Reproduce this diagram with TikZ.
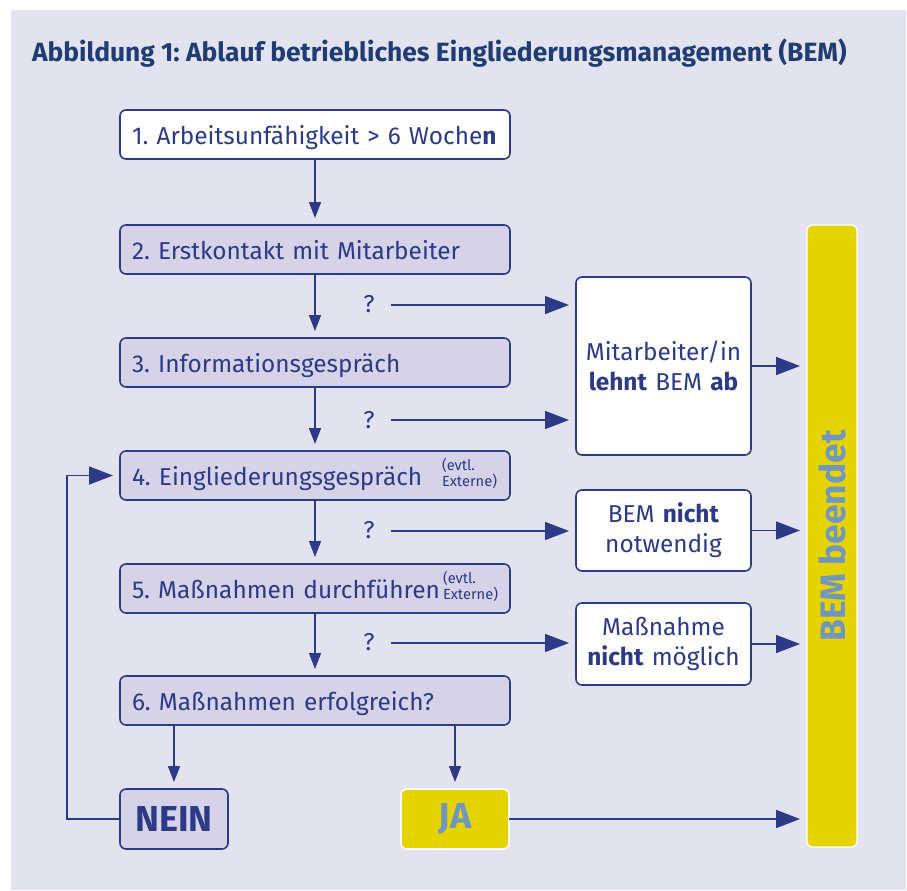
\documentclass[tikz,border=0pt]{standalone}
\usepackage{fontspec}
\setmainfont{Fira Sans}
\usetikzlibrary{arrows.meta}
\definecolor{bg}{HTML}{E3E3F0}
\definecolor{navy}{HTML}{2C3A87}
\definecolor{titleblue}{HTML}{1F3C73}
\definecolor{stepfill}{HTML}{D6D3E8}
\definecolor{yel}{HTML}{E4D300}
\definecolor{steel}{HTML}{7196BF}
\frenchspacing
\begin{document}
\begin{tikzpicture}[x=0.75pt,y=-0.75pt,
  every node/.style={outer sep=0pt, text=navy, font=\fontsize{18.3}{22.5}\selectfont},
  box/.style={draw=navy, line width=1.2pt, rounded corners=4.5pt, anchor=north west,
    minimum height=49*0.75pt, inner xsep=12*0.75pt, inner ysep=0pt,
    text height=19pt, text depth=3.5pt,
    text width=366*0.75pt, align=left},
  stepbox/.style={box, fill=stepfill},
  sidebox/.style={draw=navy, fill=white, line width=1.2pt, rounded corners=4.5pt,
    anchor=north west, inner sep=0pt, text width=175*0.75pt, align=center},
  extbox/.style={anchor=west, inner sep=0pt, align=left, font=\fontsize{11}{11.5}\selectfont},
  endbox/.style={line width=1.2pt, rounded corners=4.5pt, anchor=north west, inner sep=0pt,
    minimum width=108*0.75pt, minimum height=60*0.75pt, font=\fontsize{27}{30}\selectfont\bfseries},
  flow/.style={draw=navy, line width=1.2pt, shorten >=5.25pt, -{Triangle[length=12pt,width=9pt]}},
  flowbig/.style={draw=navy, line width=1.2pt, shorten >=5.25pt, -{Triangle[length=18pt,width=13.5pt]}},
  qmark/.style={inner sep=0pt, font=\fontsize{18.3}{22}\selectfont}
  ]
\useasboundingbox (0,0) rectangle (907,890);
\fill[bg] (11,10) rectangle (906,890);

\node[anchor=base west, inner sep=0pt, text=titleblue, font=\fontsize{19.8}{23}\selectfont\bfseries] (title) at (32,61)
  {Abbildung 1: Ablauf betriebliches Eingliederungsmanagement (BEM)};

\node[box, fill=white] (s1) at (120,110) {1. Arbeitsunfähigkeit > 6 Woche\textbf{n}};
\node[stepbox] (s2) at (120,225) {2. Erstkontakt mit Mitarbeiter};
\node[stepbox] (s3) at (120,338) {3. Informationsgespräch};
\node[stepbox] (s4) at (120,451) {4. Eingliederungsgespräch};
\node[stepbox] (s5) at (120,564) {5. Maßnahmen durchführen};
\node[stepbox] (s6) at (120,676) {6. Maßnahmen erfolgreich?};
\node[extbox] (e4) at (442,473.5) {(evtl.\\Externe)};
\node[extbox] (e5) at (443,586.5) {(evtl.\\Externe)};

\node[sidebox, minimum height=178*0.75pt] (m1) at (576,277) {Mitarbeiter/in\\\textbf{lehnt} BEM \textbf{ab}};
\node[sidebox, minimum height=81*0.75pt] (m2) at (576,490) {BEM \textbf{nicht}\\notwendig};
\node[sidebox, minimum height=82*0.75pt] (m3) at (576,603) {Maßnahme\\\textbf{nicht} möglich};

\node[draw=white, fill=yel, line width=1pt, rounded corners=4.5pt, anchor=north west,
  minimum width=50*0.75pt, minimum height=622*0.75pt, inner sep=0pt] (bar) at (807,225) {};
\node[rotate=90, text=steel, inner sep=0pt, font=\fontsize{26.5}{30}\selectfont\bfseries] (bartext) at (832,536) {BEM beendet};

\node[endbox, draw=navy, fill=stepfill, text=navy] (nein) at (120,789) {NEIN};
\node[endbox, draw=white, fill=yel, text=steel] (ja) at (401,789) {JA};

\node[qmark] (q1) at (369,304) {?};
\node[qmark] (q2) at (369,420) {?};
\node[qmark] (q3) at (369,530) {?};
\node[qmark] (q4) at (369,642) {?};
\coordinate (a1) at (391,305);
\coordinate (a2) at (391,420);
\coordinate (a3) at (391,531);
\coordinate (a4) at (391,643);

\draw[flow] (s1) -- (s2);
\draw[flow] (s2) -- (s3);
\draw[flow] (s3) -- (s4);
\draw[flow] (s4) -- (s5);
\draw[flow] (s5) -- (s6);
\draw[flow] (s6.south -| nein.north) -- (nein.north);
\draw[flow] (s6.south -| ja.north) -- (ja.north);

\draw[flowbig] (a1) -- (a1 -| m1.west);
\draw[flowbig] (a2) -- (a2 -| m1.west);
\draw[flowbig] (a3) -- (a3 -| m2.west);
\draw[flowbig] (a4) -- (a4 -| m3.west);

\draw[flowbig] (m1.east) -- (m1.east -| bar.west);
\draw[flowbig] (m2.east) -- (m2.east -| bar.west);
\draw[flowbig] (m3.east) -- (m3.east -| bar.west);
\draw[flowbig] (ja.east) -- (ja.east -| bar.west);

\draw[flowbig] (nein.west) -- ++(-53,0) |- (s4.west);
\end{tikzpicture}
\end{document}
